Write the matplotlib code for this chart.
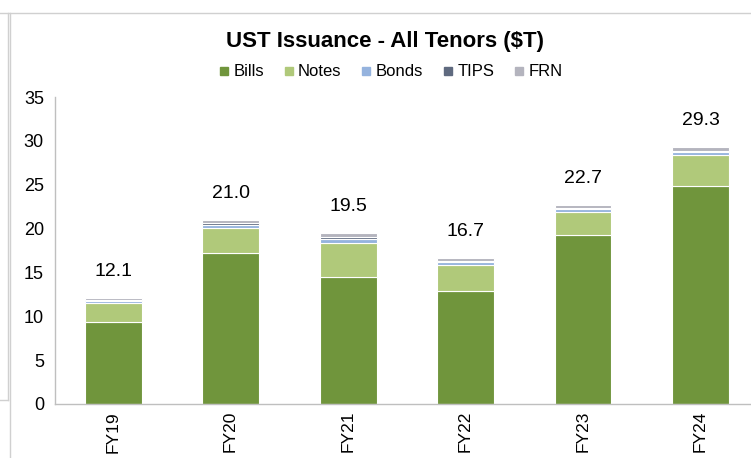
import matplotlib
matplotlib.use('Agg')
import matplotlib.pyplot as plt
from matplotlib.lines import Line2D
import numpy as np

plt.rcParams['font.family'] = ['Liberation Sans', 'DejaVu Sans']

# Data ($T)
years = ['FY19', 'FY20', 'FY21', 'FY22', 'FY23', 'FY24']
bills = [9.3, 17.2, 14.5, 12.9, 19.3, 24.8]
notes = [2.2, 2.9, 3.8, 2.95, 2.6, 3.6]
bonds = [0.2, 0.35, 0.55, 0.35, 0.3, 0.35]
tips = [0.1, 0.15, 0.2, 0.15, 0.15, 0.15]
frn = [0.3, 0.4, 0.45, 0.35, 0.35, 0.4]
totals = [12.1, 21.0, 19.5, 16.7, 22.7, 29.3]

series = [('Bills', bills, '#70953C'),
          ('Notes', notes, '#B0C97A'),
          ('Bonds', bonds, '#95B3DE'),
          ('TIPS', tips, '#5F6A7F'),
          ('FRN', frn, '#B4B4BE')]

fig = plt.figure(figsize=(7.51, 4.58), dpi=100)
ax = fig.add_axes([55 / 751, 54 / 458, 696 / 751, 307 / 458])

x = np.arange(len(years))
bottom = np.zeros(len(years))
for name, vals, col in series:
    ax.bar(x, vals, 0.485, bottom=bottom, color=col, edgecolor='white',
           linewidth=0.8, label=name)
    bottom += np.array(vals)

for xi, t in zip(x, totals):
    ax.text(xi, t + 2.0, f'{t:.1f}', ha='center', va='bottom', fontsize=14)

ax.set_ylim(0, 35)
ax.set_xlim(-0.494, 5.43)
ax.set_yticks(range(0, 36, 5))
ax.set_xticks(x)
ax.set_xticklabels(years, rotation=90, fontsize=12.5)
ax.tick_params(axis='y', length=0, labelsize=13, pad=8)
ax.tick_params(axis='x', length=0, pad=5)
for s in ['top', 'right']:
    ax.spines[s].set_visible(False)
for s in ['left', 'bottom']:
    ax.spines[s].set_color('#BFBFBF')
    ax.spines[s].set_linewidth(1)

fig.text(385 / 751, 1 - 42 / 458, 'UST Issuance - All Tenors ($T)',
         ha='center', va='center', fontsize=16, fontweight='bold')

handles = [Line2D([0], [0], marker='s', color='w', markerfacecolor=c,
                  markeredgecolor=c, markersize=6, label=n)
           for n, _, c in series]
fig.legend(handles=handles, loc='center', bbox_to_anchor=(389 / 751, 1 - 72 / 458),
           ncol=5, frameon=False, fontsize=12, handletextpad=0.05,
           columnspacing=1.0, handlelength=1.0)

# screenshot frame lines
fig.add_artist(Line2D([8 / 751, 8 / 751], [1 - 13 / 458, 1 - 400 / 458],
                      color='#D0D0D0', lw=1, transform=fig.transFigure))
fig.add_artist(Line2D([10 / 751, 10 / 751], [0, 1 - 13 / 458],
                      color='#D0D0D0', lw=1, transform=fig.transFigure))
fig.add_artist(Line2D([0, 1], [1 - 13 / 458, 1 - 13 / 458],
                      color='#D0D0D0', lw=1, transform=fig.transFigure))
fig.add_artist(Line2D([0, 8 / 751], [1 - 400 / 458, 1 - 400 / 458],
                      color='#D0D0D0', lw=1, transform=fig.transFigure))

fig.savefig('out.png', dpi=100)
